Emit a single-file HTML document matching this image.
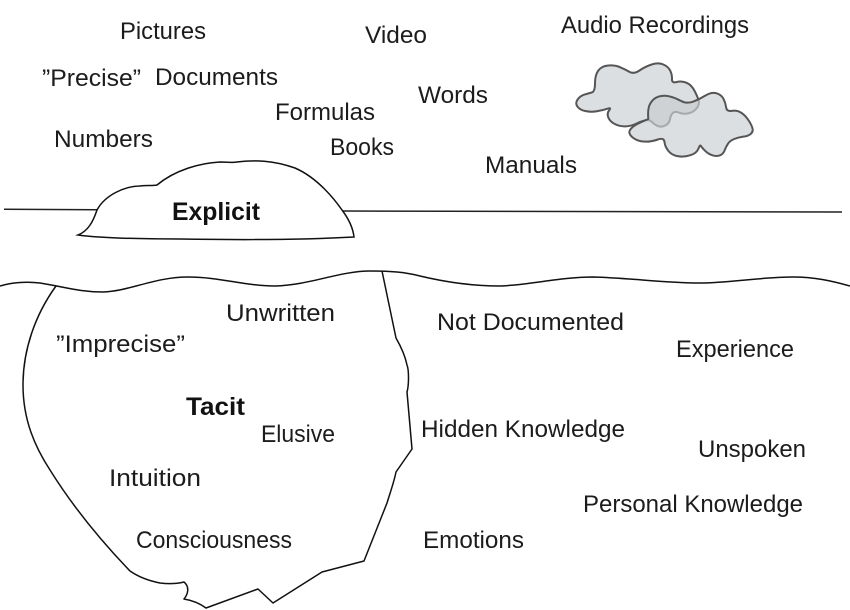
<!DOCTYPE html>
<html>
<head>
<meta charset="utf-8">
<style>
html,body{margin:0;padding:0;background:#fff}
svg{display:block}
text{font-family:"Liberation Sans",sans-serif;font-size:24px;fill:#1c1c1c}
.b{font-weight:bold;font-size:25px;fill:#111}
</style>
</head>
<body>
<svg width="850" height="610" viewBox="0 0 850 610" xmlns="http://www.w3.org/2000/svg">
<defs>
<clipPath id="c1"><path d="M95 127.5Q105 125 105 100Q105 75 115 61.5Q125 48 145 46.5Q165 45 180 51.5Q195 58 208.5 65.5Q222 73 238.5 61.5Q255 50 275 43.5Q295 37 310 43.5Q325 50 331 62.5Q337 75 336 87.5Q335 100 350 96Q365 92 380 98.5Q395 105 405 125Q415 145 416.5 155Q418 165 409 176Q400 187 385 190Q370 193 357.5 188Q345 183 338.5 189Q332 195 330 207.5Q328 220 316.5 226Q305 232 295 228.5Q285 225 276.5 216.5Q268 208 254 211.5Q240 215 227.5 221.5Q215 228 197.5 229Q180 230 165 222.5Q150 215 145 202.5Q140 190 147.5 181Q155 172 142.5 176Q130 180 112.5 183.5Q95 187 77.5 183.5Q60 180 52.5 170Q45 160 52.5 149Q60 138 72.5 134Q85 130 95 127.5Z"/></clipPath>
<clipPath id="c2"><path d="M265 207Q262 175 271 160Q280 145 295 140Q310 135 327.5 139Q345 143 362.5 152.5Q380 162 399 155Q418 148 436.5 136.5Q455 125 470 130Q485 135 491 147.5Q497 160 498.5 172.5Q500 185 515 182.5Q530 180 542.5 187.5Q555 195 565 210Q575 225 577.5 235Q580 245 572.5 251.5Q565 258 550 260Q535 262 522.5 267Q510 272 504 281Q498 290 494 301Q490 312 480 316Q470 320 457.5 316Q445 312 435 302Q425 292 422.5 287.5Q420 283 415 296.5Q410 310 390 316Q370 322 352.5 318.5Q335 315 325 302.5Q315 290 313.5 276Q312 262 293.5 268.5Q275 275 257.5 275Q240 275 227.5 268.5Q215 262 210 253.5Q205 245 212.5 236.5Q220 228 230 223Q240 218 265 207Z"/></clipPath>
</defs>
<!-- clouds -->
<g transform="translate(560,50) scale(.33333)" stroke-linejoin="round">
<path d="M95 127.5Q105 125 105 100Q105 75 115 61.5Q125 48 145 46.5Q165 45 180 51.5Q195 58 208.5 65.5Q222 73 238.5 61.5Q255 50 275 43.5Q295 37 310 43.5Q325 50 331 62.5Q337 75 336 87.5Q335 100 350 96Q365 92 380 98.5Q395 105 405 125Q415 145 416.5 155Q418 165 409 176Q400 187 385 190Q370 193 357.5 188Q345 183 338.5 189Q332 195 330 207.5Q328 220 316.5 226Q305 232 295 228.5Q285 225 276.5 216.5Q268 208 254 211.5Q240 215 227.5 221.5Q215 228 197.5 229Q180 230 165 222.5Q150 215 145 202.5Q140 190 147.5 181Q155 172 142.5 176Q130 180 112.5 183.5Q95 187 77.5 183.5Q60 180 52.5 170Q45 160 52.5 149Q60 138 72.5 134Q85 130 95 127.5Z" fill="#dcdfe1" stroke="#555" stroke-width="6"/>
<path d="M265 207Q262 175 271 160Q280 145 295 140Q310 135 327.5 139Q345 143 362.5 152.5Q380 162 399 155Q418 148 436.5 136.5Q455 125 470 130Q485 135 491 147.5Q497 160 498.5 172.5Q500 185 515 182.5Q530 180 542.5 187.5Q555 195 565 210Q575 225 577.5 235Q580 245 572.5 251.5Q565 258 550 260Q535 262 522.5 267Q510 272 504 281Q498 290 494 301Q490 312 480 316Q470 320 457.5 316Q445 312 435 302Q425 292 422.5 287.5Q420 283 415 296.5Q410 310 390 316Q370 322 352.5 318.5Q335 315 325 302.5Q315 290 313.5 276Q312 262 293.5 268.5Q275 275 257.5 275Q240 275 227.5 268.5Q215 262 210 253.5Q205 245 212.5 236.5Q220 228 230 223Q240 218 265 207Z" fill="#dcdfe1" stroke="none"/>
<g clip-path="url(#c2)">
<path d="M95 127.5Q105 125 105 100Q105 75 115 61.5Q125 48 145 46.5Q165 45 180 51.5Q195 58 208.5 65.5Q222 73 238.5 61.5Q255 50 275 43.5Q295 37 310 43.5Q325 50 331 62.5Q337 75 336 87.5Q335 100 350 96Q365 92 380 98.5Q395 105 405 125Q415 145 416.5 155Q418 165 409 176Q400 187 385 190Q370 193 357.5 188Q345 183 338.5 189Q332 195 330 207.5Q328 220 316.5 226Q305 232 295 228.5Q285 225 276.5 216.5Q268 208 254 211.5Q240 215 227.5 221.5Q215 228 197.5 229Q180 230 165 222.5Q150 215 145 202.5Q140 190 147.5 181Q155 172 142.5 176Q130 180 112.5 183.5Q95 187 77.5 183.5Q60 180 52.5 170Q45 160 52.5 149Q60 138 72.5 134Q85 130 95 127.5Z" fill="#cfd2d4" stroke="#a6a8a9" stroke-width="6"/>
</g>
<path d="M265 207Q262 175 271 160Q280 145 295 140Q310 135 327.5 139Q345 143 362.5 152.5Q380 162 399 155Q418 148 436.5 136.5Q455 125 470 130Q485 135 491 147.5Q497 160 498.5 172.5Q500 185 515 182.5Q530 180 542.5 187.5Q555 195 565 210Q575 225 577.5 235Q580 245 572.5 251.5Q565 258 550 260Q535 262 522.5 267Q510 272 504 281Q498 290 494 301Q490 312 480 316Q470 320 457.5 316Q445 312 435 302Q425 292 422.5 287.5Q420 283 415 296.5Q410 310 390 316Q370 322 352.5 318.5Q335 315 325 302.5Q315 290 313.5 276Q312 262 293.5 268.5Q275 275 257.5 275Q240 275 227.5 268.5Q215 262 210 253.5Q205 245 212.5 236.5Q220 228 230 223Q240 218 265 207Z" fill="none" stroke="#555" stroke-width="6"/>
</g>
<!-- waterline -->
<path d="M4 209.3L97 209.7" fill="none" stroke="#222" stroke-width="1.5"/>
<path d="M342 211L842 212" fill="none" stroke="#222" stroke-width="1.5"/>
<!-- explicit iceberg -->
<path d="M78 235C88 231 93 222 97 210C105 195 125 186 140 186C148 185 152 186 157 185C175 170 200 163 220 162C232 162 232 163 237 162C255 160 272 160 295 168C318 178 335 200 342 210C348 218 353 228 354 237C300 240 240 240 180 239C140 239 100 238 78 235Z" fill="#fff" stroke="#111" stroke-width="1.5"/>
<!-- wave -->
<path d="M0 286C10 283 25 281 40 283C65 287 80 292 103 292C130 291 155 277 188 277C220 277 245 286 275 286C310 285 340 271 370 271C390 271 405 272 420 276C445 282 470 286 500 286C530 285 560 277 593 277C630 278 665 283 700 283C730 283 760 277 793 277C815 277 832 281 850 286" fill="none" stroke="#111" stroke-width="1.5"/>
<!-- tacit iceberg -->
<path d="M56 286C35 315 23 350 23 385C23 420 35 447 50 470C75 510 105 545 130 571C140 578 150 581 160 583C168 584 176 584 184 582C189 586 189 593 184 599C190 600 198 602 206 608L258 589L273 603L322 572L364 561L387 503C391 490 394 482 396 472L412 449L407 392C409 385 409 370 407 365C405 355 400 345 396 338L382 271" fill="none" stroke="#111" stroke-width="1.5" stroke-linejoin="round"/>
<!-- labels -->
<text lengthAdjust="spacingAndGlyphs" x="120" y="39" textLength="86">Pictures</text>
<text lengthAdjust="spacingAndGlyphs" x="42" y="86" textLength="99">”Precise”</text>
<text lengthAdjust="spacingAndGlyphs" x="155" y="85" textLength="123">Documents</text>
<text lengthAdjust="spacingAndGlyphs" x="365" y="43" textLength="62">Video</text>
<text lengthAdjust="spacingAndGlyphs" x="561" y="33" textLength="188">Audio Recordings</text>
<text lengthAdjust="spacingAndGlyphs" x="418" y="103" textLength="70">Words</text>
<text lengthAdjust="spacingAndGlyphs" x="275" y="120" textLength="100">Formulas</text>
<text lengthAdjust="spacingAndGlyphs" x="330" y="155" textLength="64">Books</text>
<text lengthAdjust="spacingAndGlyphs" x="54" y="147" textLength="99">Numbers</text>
<text lengthAdjust="spacingAndGlyphs" x="485" y="173" textLength="92">Manuals</text>
<text class="b" lengthAdjust="spacingAndGlyphs" x="172" y="220" textLength="88">Explicit</text>
<text lengthAdjust="spacingAndGlyphs" x="226" y="321" textLength="109">Unwritten</text>
<text lengthAdjust="spacingAndGlyphs" x="56" y="352" textLength="129">”Imprecise”</text>
<text lengthAdjust="spacingAndGlyphs" x="437" y="330" textLength="187">Not Documented</text>
<text lengthAdjust="spacingAndGlyphs" x="676" y="357" textLength="118">Experience</text>
<text class="b" lengthAdjust="spacingAndGlyphs" x="186" y="415" textLength="59">Tacit</text>
<text lengthAdjust="spacingAndGlyphs" x="261" y="442" textLength="74">Elusive</text>
<text lengthAdjust="spacingAndGlyphs" x="421" y="437" textLength="204">Hidden Knowledge</text>
<text lengthAdjust="spacingAndGlyphs" x="698" y="457" textLength="108">Unspoken</text>
<text lengthAdjust="spacingAndGlyphs" x="109" y="486" textLength="92">Intuition</text>
<text lengthAdjust="spacingAndGlyphs" x="583" y="512" textLength="220">Personal Knowledge</text>
<text lengthAdjust="spacingAndGlyphs" x="136" y="548" textLength="156">Consciousness</text>
<text lengthAdjust="spacingAndGlyphs" x="423" y="548" textLength="101">Emotions</text>
</svg>
</body>
</html>
